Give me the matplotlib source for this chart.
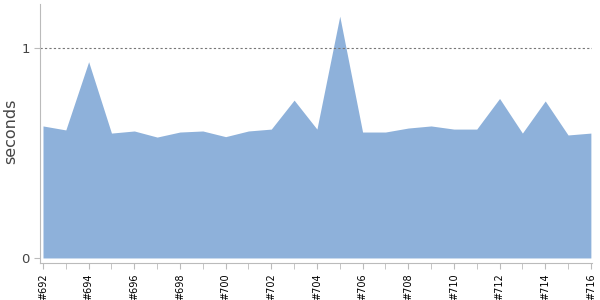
import matplotlib
matplotlib.use("Agg")
import matplotlib.pyplot as plt
import numpy as np

builds = [f"#{n}" for n in range(692, 717)]
seconds = [0.629, 0.610, 0.935, 0.595, 0.605, 0.576, 0.600, 0.605, 0.578, 0.605,
           0.614, 0.752, 0.614, 1.152, 0.600, 0.600, 0.619, 0.629, 0.614, 0.614,
           0.760, 0.595, 0.748, 0.586, 0.595]

fig = plt.figure(figsize=(6, 3), dpi=100)
ax = fig.add_axes([0.0667, 0.1233, 0.92, 0.8634])
x = np.arange(len(builds))
ax.fill_between(x, 0, seconds, color="#8eb1da", linewidth=0)
ax.axhline(1, color="#777777", linestyle=(0, (2, 2)), linewidth=0.8)

ax.set_xlim(-0.13, 24.05)
ax.set_ylim(-0.024, 1.21)
ax.set_yticks([0, 1])
ax.set_yticklabels(["0", "1"], fontsize=9.5, color="#444444")
ax.set_xticks(x[::2])
ax.set_xticklabels(builds[::2], rotation=90, fontsize=7, color="black")
ax.set_xticks(x, minor=True)
for s in ["top", "right"]:
    ax.spines[s].set_visible(False)
for s in ["left", "bottom"]:
    ax.spines[s].set_color("#bbbbbb")
ax.tick_params(axis="x", which="both", colors="#bbbbbb", labelcolor="black", length=4)
ax.tick_params(axis="y", length=4, colors="#bbbbbb", labelcolor="#444444")
ax.set_ylabel("seconds", fontsize=11.5, color="#444444")
ax.yaxis.set_label_coords(-0.04, 0.51)

fig.savefig("out.png", dpi=100)
